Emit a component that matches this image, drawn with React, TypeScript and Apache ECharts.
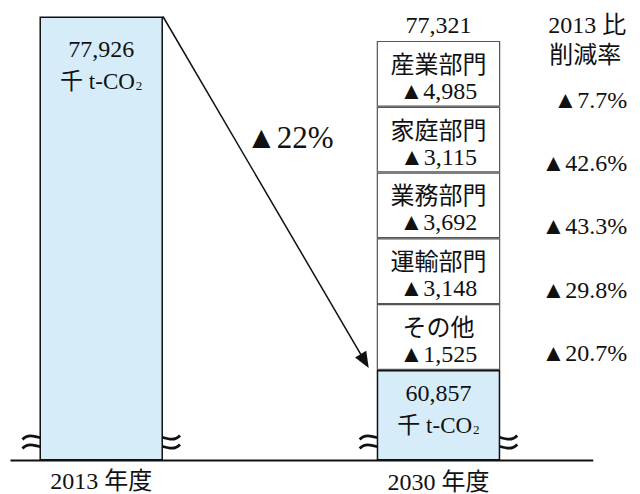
import React, { useEffect, useRef } from 'react';
import * as echarts from 'echarts';

// ---- data (千 t-CO2) ----
const years = ['2013 年度', '2030 年度'];
const baseEmissions = [77926, 60857];
const bauTotal2030 = 77321;
const sectors = ['産業部門', '家庭部門', '業務部門', '運輸部門', 'その他'];
const sectorReductions = [4985, 3115, 3692, 3148, 1525];
const sectorRates = [7.7, 42.6, 43.3, 29.8, 20.7];
const totalRate = 22;
const unitText = '千 t-CO';
const rateHeader = ['2013 比', '削減率'];

// ---- schematic (not to scale, broken axis) display heights ----
const barDisplay = [100, 20.4];
const sectorBoxDisplay = 14.82;

const FONT = '"Liberation Serif", "Noto Sans CJK JP", serif';
const fmt = (n: number) => n.toLocaleString('en-US');
const BAR_W = 123.5;

export default function App() {
  const ref = useRef<HTMLDivElement>(null);
  useEffect(() => {
    document.body.style.margin = '0';
    const chart = echarts.init(ref.current!, null, { renderer: 'svg' });

    const unitRich = {
      v: { fontSize: 24, lineHeight: 32, fontFamily: FONT, color: '#111' },
      u: { fontSize: 23, lineHeight: 32, fontFamily: FONT, color: '#111' },
      s: { fontSize: 13, lineHeight: 32, fontFamily: FONT, color: '#111', padding: [9, 0, 0, 1] },
    };

    const series: any[] = [
      {
        type: 'bar',
        name: '排出量',
        stack: 'total',
        barWidth: BAR_W,
        data: barDisplay.map((h, i) => ({ value: h, label: { distance: i === 0 ? 16.5 : 7.5 } })),
        itemStyle: { color: '#d6ecf9', borderColor: '#111', borderWidth: 1.5 },
        label: {
          show: true,
          position: 'insideTop',
          formatter: (p: any) => `{v|${fmt(baseEmissions[p.dataIndex])}}\n{u|${unitText}}{s|2}`,
          rich: unitRich,
        },
      },
    ];
    for (let i = sectors.length - 1; i >= 0; i--) {
      series.push({
        type: 'bar',
        name: sectors[i],
        stack: 'total',
        barWidth: BAR_W,
        data: ['-', sectorBoxDisplay],
        itemStyle: { color: '#ffffff', borderColor: '#555', borderWidth: 1.2 },
        label: {
          show: true,
          position: 'inside',
          offset: [0, 4],
          formatter: `{n|${sectors[i]}}\n{v|▲${fmt(sectorReductions[i])}}`,
          rich: {
            n: { fontSize: 24, lineHeight: 26, fontFamily: FONT, color: '#111' },
            v: { fontSize: 24, lineHeight: 26, fontFamily: FONT, color: '#111' },
          },
        },
      });
    }

    chart.setOption({
      animation: false,
      grid: { left: -67.4, width: 674.5, top: 16.5, bottom: 33.5, containLabel: false, outerBoundsMode: 'none' },
      xAxis: {
        type: 'category',
        data: [
          { value: years[0] },
          { value: years[1], textStyle: { padding: [1, 0, 0, 0] } },
        ],
        axisLine: { show: false },
        axisTick: { show: false },
        axisLabel: { fontSize: 24, color: '#111', fontFamily: FONT, margin: 8 },
      },
      yAxis: { type: 'value', min: 0, max: 100, show: false },
      series,
    });

    const px = (c: number, v: number) => chart.convertToPixel({ gridIndex: 0 }, [c, v]) as number[];
    const half = BAR_W / 2;
    const [x0, yTop0] = px(0, barDisplay[0]);
    const yBase = px(0, 0)[1];
    const [x1, yBlueTop] = px(1, barDisplay[1]);
    const stackTopVal = barDisplay[1] + sectorBoxDisplay * sectors.length;
    const yStackTop = px(1, stackTopVal)[1];

    const g: any[] = [];
    // baseline
    g.push({
      type: 'line', silent: true,
      shape: { x1: x0 - half - 29, y1: yBase, x2: x1 + half + 93, y2: yBase },
      style: { stroke: '#111', lineWidth: 2 },
    });
    // axis break marks (double waves) on every bar edge
    [x0 - half, x0 + half, x1 - half, x1 + half].forEach((cx) => {
      [yBase - 23, yBase - 14].forEach((yc) => {
        g.push({
          type: 'bezierCurve', silent: true,
          shape: { x1: cx - 17, y1: yc + 2, cpx1: cx - 7, cpy1: yc - 9, cpx2: cx + 7, cpy2: yc + 9, x2: cx + 17, y2: yc - 2 },
          style: { stroke: '#111', lineWidth: 2.8, fill: 'none' },
        });
      });
    });
    // arrow
    const sx = x0 + half, sy = yTop0;
    const ex = x1 - half - 8, ey = yBlueTop - 2;
    const L = Math.hypot(ex - sx, ey - sy);
    const dx = (ex - sx) / L, dy = (ey - sy) / L;
    const hl = 16, hw = 6.5;
    g.push({
      type: 'line', silent: true,
      shape: { x1: sx, y1: sy, x2: ex - dx * (hl - 2), y2: ey - dy * (hl - 2) },
      style: { stroke: '#111', lineWidth: 1.5 },
    });
    g.push({
      type: 'polygon', silent: true,
      shape: {
        points: [
          [ex, ey],
          [ex - dx * hl - dy * hw, ey - dy * hl + dx * hw],
          [ex - dx * hl + dy * hw, ey - dy * hl - dx * hw],
        ],
      },
      style: { fill: '#111' },
    });
    const t = 0.345;
    g.push({
      type: 'text', silent: true,
      x: sx + t * (ex - sx) + 12, y: sy + t * (ey - sy),
      style: { text: `▲${totalRate}%`, fontSize: 31, fontFamily: FONT, fill: '#111', align: 'left', verticalAlign: 'middle' },
    });
    // total above 2030 stack
    g.push({
      type: 'text', silent: true, x: x1, y: yStackTop - 16,
      style: { text: fmt(bauTotal2030), fontSize: 24, fontFamily: FONT, fill: '#111', align: 'center', verticalAlign: 'middle' },
    });
    // rate header
    g.push({
      type: 'text', silent: true, x: x1 + half + 87, y: yStackTop - 16,
      style: { text: rateHeader[0], fontSize: 24, fontFamily: FONT, fill: '#111', align: 'center', verticalAlign: 'middle' },
    });
    g.push({
      type: 'text', silent: true, x: x1 + half + 85, y: yStackTop + 14,
      style: { text: rateHeader[1], fontSize: 24, fontFamily: FONT, fill: '#111', align: 'center', verticalAlign: 'middle' },
    });
    // rates column (evenly spaced, slightly tighter than the boxes)
    const n = sectors.length;
    const segCenter = (i: number) =>
      px(1, barDisplay[1] + sectorBoxDisplay * (n - 1 - i) + sectorBoxDisplay / 2)[1];
    const rFirst = segCenter(0) + 26;
    const rLast = segCenter(n - 1) + 16;
    sectors.forEach((_, i) => {
      const yc = rFirst + ((rLast - rFirst) * i) / (n - 1);
      g.push({
        type: 'text', silent: true, x: x1 + half + 127, y: yc,
        style: { text: `▲${sectorRates[i].toFixed(1)}%`, fontSize: 24, fontFamily: FONT, fill: '#111', align: 'right', verticalAlign: 'middle' },
      });
    });

    chart.setOption({ graphic: g });
    return () => chart.dispose();
  }, []);
  return <div ref={ref} style={{ width: 640, height: 494 }} />;
}
